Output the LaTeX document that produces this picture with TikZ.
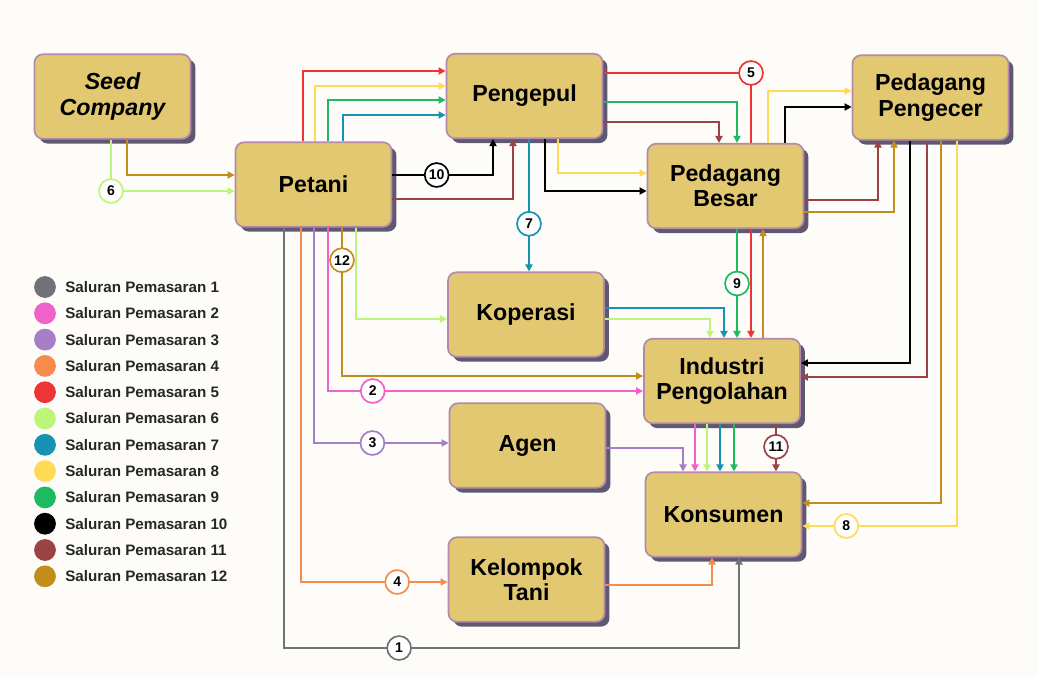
\documentclass[tikz,border=0pt]{standalone}
\usepackage{fontspec}
\setsansfont{Liberation Sans}
\usetikzlibrary{arrows.meta,positioning,shadows}
\definecolor{bgc}{HTML}{FDFCF8}
\definecolor{boxfill}{HTML}{E3C872}
\definecolor{boxline}{HTML}{B58AA8}
\definecolor{boxshade}{HTML}{5F5873}
\definecolor{c1}{HTML}{717178}
\definecolor{c2}{HTML}{F062C9}
\definecolor{c3}{HTML}{A67DC6}
\definecolor{c4}{HTML}{F58B4C}
\definecolor{c5}{HTML}{EE3535}
\definecolor{c6}{HTML}{BDF57A}
\definecolor{c7}{HTML}{1792B2}
\definecolor{c8}{HTML}{FFDA55}
\definecolor{c9}{HTML}{1DBA62}
\definecolor{c10}{HTML}{000000}
\definecolor{c11}{HTML}{9B4343}
\definecolor{c12}{HTML}{C38D1C}

\begin{document}
\begin{tikzpicture}[x=0.025cm,y=-0.025cm,font=\sffamily\bfseries,stage/.style={draw=boxline,fill=boxfill,line width=1.2pt,rounded corners=6pt,align=center,minimum width=111pt,minimum height=60pt,font=\sffamily\bfseries\fontsize{16.5}{18}\selectfont,drop shadow={shadow xshift=3.5pt,shadow yshift=-3.5pt,fill=boxshade,opacity=1}},flow/.style={line width=1.3pt,-{Triangle[length=5pt,width=5pt]}},plain/.style={line width=1.3pt},num/.style={circle,draw,fill=white,text=black,line width=1.2pt,inner sep=0pt,minimum size=17pt,font=\sffamily\bfseries\fontsize{10}{10}\selectfont},legdot/.style={circle,inner sep=0pt,minimum size=15.5pt},legtxt/.style={anchor=west,text=black!85,font=\sffamily\bfseries\fontsize{10.8}{12}\selectfont}]
\fill[bgc] (0,0) rectangle (1038,678);
\useasboundingbox (0,0) rectangle (1038,678);
% boxes
\node[stage,font=\sffamily\bfseries\itshape\fontsize{16.5}{18}\selectfont] (seed) at (112.5,96.5){Seed\\Company};
\node[stage] (petani) at (313.5,184.5){Petani};
\node[stage] (pengepul) at (524.5,96){Pengepul};
\node[stage] (besar) at (725.5,186){Pedagang\\Besar};
\node[stage] (pengecer) at (930.5,97.5){Pedagang\\Pengecer};
\node[stage] (koperasi) at (526,314.5){Koperasi};
\node[stage] (industri) at (722,381){Industri\\Pengolahan};
\node[stage] (agen) at (527.5,445.5){Agen};
\node[stage] (kelompok) at (526.5,579.5){Kelompok\\Tani};
\node[stage] (konsumen) at (723.5,514.5){Konsumen};
% seed company -> petani
\draw[flow,c6] (111,0 |- seed.south) |- node[num] (n6){6} (petani.west |- 0,191);
\draw[flow,c12] (127,0 |- seed.south) |- (petani.west |- 0,175);
% petani -> pengepul
\draw[flow,c5] (303,0 |- petani.north) |- (pengepul.west |- 0,71);\draw[flow,c8] (315,0 |- petani.north) |- (pengepul.west |- 0,86);
\draw[flow,c9] (328,0 |- petani.north) |- (pengepul.west |- 0,100);\draw[flow,c7] (343,0 |- petani.north) |- (pengepul.west |- 0,115);
\draw[flow,c10] (petani.east |- 0,175) -| node[num,pos=0.22] (n10){10} (493,0 |- pengepul.south);
\draw[flow,c11] (petani.east |- 0,199) -| (513,0 |- pengepul.south);
% pengepul
\draw[plain,c5] (pengepul.east |- 0,73) -| node[num] (n5){5} (751,0 |- besar.north);
\draw[flow,c5] (751,0 |- besar.south) -- (751,0 |- industri.north);
\draw[flow,c9] (pengepul.east |- 0,102) -| (737,0 |- besar.north);\draw[flow,c11] (pengepul.east |- 0,122) -| (719,0 |- besar.north);
\draw[flow,c8] (558,0 |- pengepul.south) |- (besar.west |- 0,173);\draw[flow,c10] (545,0 |- pengepul.south) |- (besar.west |- 0,191);
\draw[flow,c7] (529,0 |- pengepul.south) -- node[num,pos=0.64] (n7){7} (529,0 |- koperasi.north);
% pedagang besar
\draw[flow,c8] (768,0 |- besar.north) |- (pengecer.west |- 0,91);\draw[flow,c10] (785,0 |- besar.north) |- (pengecer.west |- 0,107);
\draw[flow,c11] (besar.east |- 0,200) -| (878,0 |- pengecer.south);\draw[flow,c12] (besar.east |- 0,212) -| (894,0 |- pengecer.south);
\draw[flow,c9] (737,0 |- besar.south) -- node[num,pos=0.5] (n9){9} (737,0 |- industri.north);
\draw[flow,c12] (763,0 |- industri.north) -- (763,0 |- besar.south);
% pedagang pengecer
\draw[flow,c10] (910,0 |- pengecer.south) |- (industri.east |- 0,363);\draw[flow,c11] (927,0 |- pengecer.south) |- (industri.east |- 0,377);
\draw[flow,c12] (941,0 |- pengecer.south) |- (konsumen.east |- 0,503);
\draw[flow,c8] (957,0 |- pengecer.south) |- node[num,pos=0.858] (n8){8} (konsumen.east |- 0,526);
% koperasi
\draw[flow,c7] (koperasi.east |- 0,308) -| (724,0 |- industri.north);\draw[flow,c6] (koperasi.east |- 0,319) -| (710,0 |- industri.north);
% petani bottom
\draw[flow,c6] (356,0 |- petani.south) |- (koperasi.west |- 0,319);
\draw[flow,c12] (342,0 |- petani.south) |- node[num,pos=0.11] (n12){12} (industri.west |- 0,376);
\draw[flow,c2] (328,0 |- petani.south) |- node[num,pos=0.571] (n2){2} (industri.west |- 0,391);
\draw[flow,c3] (314,0 |- petani.south) |- node[num,pos=0.717] (n3){3} (agen.west |- 0,443);
\draw[flow,c4] (301,0 |- petani.south) |- node[num,pos=0.828] (n4){4} (kelompok.west |- 0,582);
\draw[flow,c1] (284,0 |- petani.south) -- (284,648) -- node[num,pos=0.253] (n1){1} (739,648) -- (739,0 |- konsumen.south);
% into konsumen
\draw[flow,c3] (agen.east |- 0,448) -| (683,0 |- konsumen.north);
\draw[flow,c2] (695,0 |- industri.south) -- (695,0 |- konsumen.north);\draw[flow,c6] (707,0 |- industri.south) -- (707,0 |- konsumen.north);
\draw[flow,c7] (720,0 |- industri.south) -- (720,0 |- konsumen.north);\draw[flow,c9] (734,0 |- industri.south) -- (734,0 |- konsumen.north);
\draw[flow,c11] (776,0 |- industri.south) -- node[num,pos=0.48] (n11){11} (776,0 |- konsumen.north);
\draw[flow,c4] (kelompok.east |- 0,585) -| (712,0 |- konsumen.south);
% legend
\foreach \i in {1,...,12}{\node[legdot,fill=c\i] (dot\i) at (45,260.7+26.3*\i){};\node[legtxt,right=3pt of dot\i] (leg\i){Saluran Pemasaran \i};}
\end{tikzpicture}
\end{document}
